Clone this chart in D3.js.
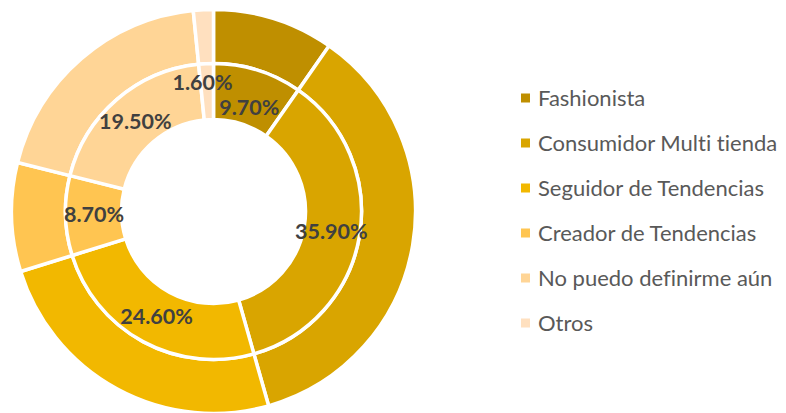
<!DOCTYPE html>
<html><head><meta charset="utf-8">
<script src="https://cdn.jsdelivr.net/npm/d3@7"></script>
<style>html,body{margin:0;padding:0;background:#fff;}svg{display:block;}text{font-variant-ligatures:none;font-feature-settings:"liga" 0;}</style>
</head><body>
<svg id="chart" width="786" height="413"></svg>
<script>
const categories = ["Fashionista","Consumidor Multi tienda","Seguidor de Tendencias","Creador de Tendencias","No puedo definirme aún","Otros"];
const outerValues = [9.7, 35.9, 24.6, 8.7, 19.5, 1.6];
const innerValues = [9.7, 35.9, 24.6, 8.7, 19.5, 1.6];
const colors = ["#BF8F00","#D9A500","#F2B800","#FFC551","#FFD596","#FFE0BF"];

const svg = d3.select("#chart");
const cx = 213.5, cy = 211.5;
const g = svg.append("g").attr("transform", `translate(${cx},${cy})`);
const pie = d3.pie().sort(null).value(d => d);

const outerArc = d3.arc().innerRadius(148).outerRadius(202);
const innerArc = d3.arc().innerRadius(92).outerRadius(148);

g.selectAll("path.outer").data(pie(outerValues)).join("path")
  .attr("class","outer").attr("d", outerArc)
  .attr("fill", (d,i) => colors[i]).attr("stroke","#fff").attr("stroke-width",3.5);

const innerData = pie(innerValues);
g.selectAll("path.inner").data(innerData).join("path")
  .attr("class","inner").attr("d", innerArc)
  .attr("fill", (d,i) => colors[i]).attr("stroke","#fff").attr("stroke-width",3.5);

const labelArc = d3.arc().innerRadius(92).outerRadius(147);
// small nudges Excel applied to avoid overlapping labels
const nudge = {0:[0,10], 5:[-5,-10]};
g.selectAll("text.lbl").data(innerData).join("text")
  .attr("class","lbl")
  .attr("transform", (d,i) => {
    const c = labelArc.centroid(d); const n = nudge[i] || [0,0];
    return `translate(${c[0]+n[0]},${c[1]+n[1]})`;
  })
  .attr("text-anchor","middle").attr("dy","0.35em")
  .attr("font-family","Lato, 'Open Sans', sans-serif").attr("font-weight","bold")
  .attr("font-size",21.5).attr("fill","#404040")
  .text(d => d.data.toFixed(2) + "%");

const legend = svg.append("g").attr("transform","translate(521,98)");
const rows = legend.selectAll("g").data(categories).join("g")
  .attr("transform",(d,i)=>`translate(0,${i*45})`);
rows.append("rect").attr("x",0).attr("y",-4.5).attr("width",9).attr("height",9)
  .attr("fill",(d,i)=>colors[i]);
rows.append("text").attr("x",17).attr("dy","0.35em")
  .attr("font-family","Lato, 'Open Sans', sans-serif").attr("font-size",22)
  .attr("fill","#595959").text(d=>d);
</script>
</body></html>
